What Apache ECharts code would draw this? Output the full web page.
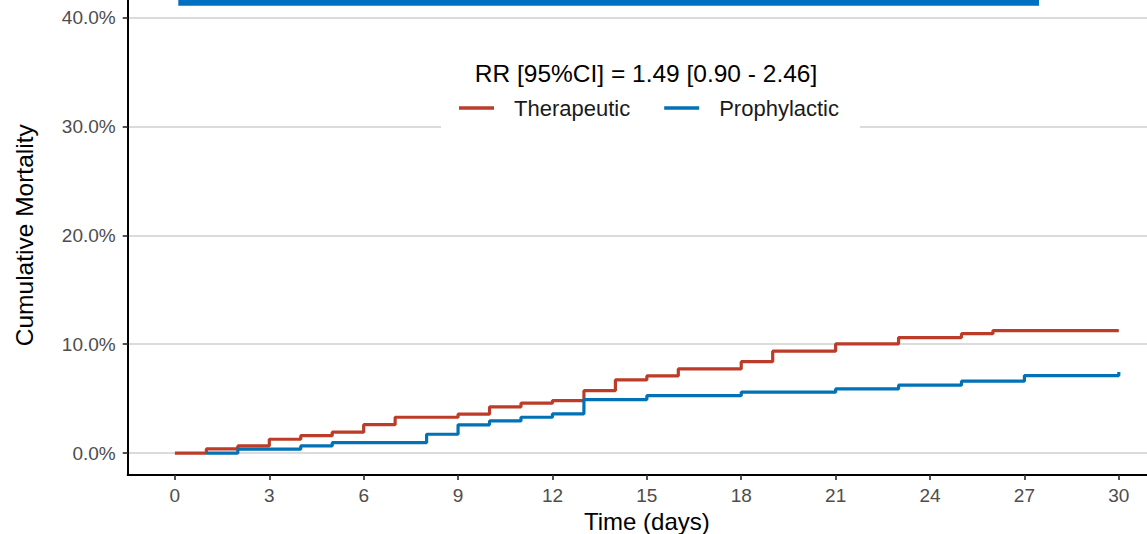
<!DOCTYPE html>
<html>
<head>
<meta charset="utf-8">
<script src="https://cdn.jsdelivr.net/npm/echarts@6/dist/echarts.min.js"></script>
<style>html,body{margin:0;padding:0;background:#fff;}#c{width:1147px;height:534px;}</style>
</head>
<body>
<div id="c"></div>
<script>
// ---- data ----
const seriesNames = ['Therapeutic', 'Prophylactic'];
const daysTher = [0, 1, 2, 3, 4, 5, 6, 7, 9, 10, 11, 12, 13, 14, 15, 16, 18, 19, 21, 23, 25, 26, 30];
const mortTher = [0, 0.39, 0.67, 1.28, 1.61, 1.93, 2.62, 3.30, 3.58, 4.25, 4.59, 4.83, 5.74, 6.72, 7.09, 7.73, 8.40, 9.36, 10.03, 10.61, 10.97, 11.25, 11.25];
const daysProph = [1, 2, 4, 5, 8, 9, 10, 11, 12, 13, 15, 18, 21, 23, 25, 27, 30];
const mortProph = [0, 0.37, 0.67, 0.97, 1.74, 2.60, 2.96, 3.30, 3.61, 4.92, 5.28, 5.60, 5.90, 6.24, 6.61, 7.12, 7.46];
const xTicks = [0, 3, 6, 9, 12, 15, 18, 21, 24, 27, 30];
const yTicks = [0, 10, 20, 30, 40];
const legendTitle = 'RR [95%CI] = 1.49 [0.90 - 2.46]';
const xTitle = 'Time (days)';
const yTitle = 'Cumulative Mortality';

const FONT = '"Liberation Sans", Arial, Helvetica, sans-serif';
const RED = '#BC3C29', BLUE = '#0072B5';

const chart = echarts.init(document.getElementById('c'), null, {renderer: 'svg'});
const pairs = (xs, ys) => xs.map((x, i) => [x, ys[i]]);

chart.setOption({
  animation: false,
  backgroundColor: '#fff',
  textStyle: {fontFamily: FONT},
  grid: {left: 127.7, right: -19, top: -4.5, bottom: 59, containLabel: false, outerBoundsMode: 'none'},
  xAxis: {
    type: 'value', min: -1.5, max: 31.5,
    name: xTitle, nameLocation: 'middle', nameGap: 31,
    nameTextStyle: {fontSize: 24, color: '#000', fontFamily: FONT},
    axisLine: {show: true, onZero: false, lineStyle: {color: '#000', width: 2}},
    axisTick: {show: true, length: 5, customValues: xTicks, lineStyle: {color: '#333', width: 1.7}},
    axisLabel: {customValues: xTicks, margin: 11, fontSize: 19, color: '#4D4D4D', fontFamily: FONT},
    splitLine: {show: false}
  },
  yAxis: {
    type: 'value', min: -2, max: 42,
    name: yTitle, nameLocation: 'middle', nameGap: 91,
    nameTextStyle: {fontSize: 24.5, color: '#000', fontFamily: FONT},
    axisLine: {show: true, onZero: false, lineStyle: {color: '#000', width: 2}},
    axisTick: {show: true, length: 5, customValues: yTicks, lineStyle: {color: '#333', width: 1.7}},
    axisLabel: {customValues: yTicks, margin: 12, fontSize: 19, color: '#4D4D4D', fontFamily: FONT,
      formatter: v => v.toFixed(1) + '%'},
    splitLine: {show: true, lineStyle: {color: '#CFCFCF', width: 1.7}}
  },
  legend: {
    data: seriesNames, left: 454, top: 92, orient: 'horizontal',
    itemWidth: 35, itemHeight: 3.5, itemGap: 34, z: 10,
    icon: 'rect',
    textStyle: {fontSize: 22, color: '#1a1a1a', fontFamily: FONT, padding: [0, 0, 0, 15]},
    selectedMode: false
  },
  graphic: [
    {type: 'rect', z: 5, shape: {x: 441, y: 52, width: 419, height: 77}, style: {fill: '#fff'}, silent: true},
    {type: 'rect', z: 5, shape: {x: 178.3, y: 0, width: 860.7, height: 5.7}, style: {fill: '#0070C0'}, silent: true},
    {type: 'text', z: 11, x: 646, y: 73, silent: true,
      style: {text: legendTitle, fontSize: 24.5, fontFamily: FONT, fill: '#000', textAlign: 'center', textVerticalAlign: 'middle'}}
  ],
  series: [
    {name: seriesNames[0], type: 'line', step: 'end', symbol: 'none', z: 2,
      data: pairs(daysTher, mortTher), itemStyle: {color: RED},
      lineStyle: {color: RED, width: 3.2}},
    {name: seriesNames[1], type: 'line', step: 'end', symbol: 'none', z: 3,
      data: pairs(daysProph, mortProph), itemStyle: {color: BLUE},
      lineStyle: {color: BLUE, width: 3.2}}
  ]
});
</script>
</body>
</html>
